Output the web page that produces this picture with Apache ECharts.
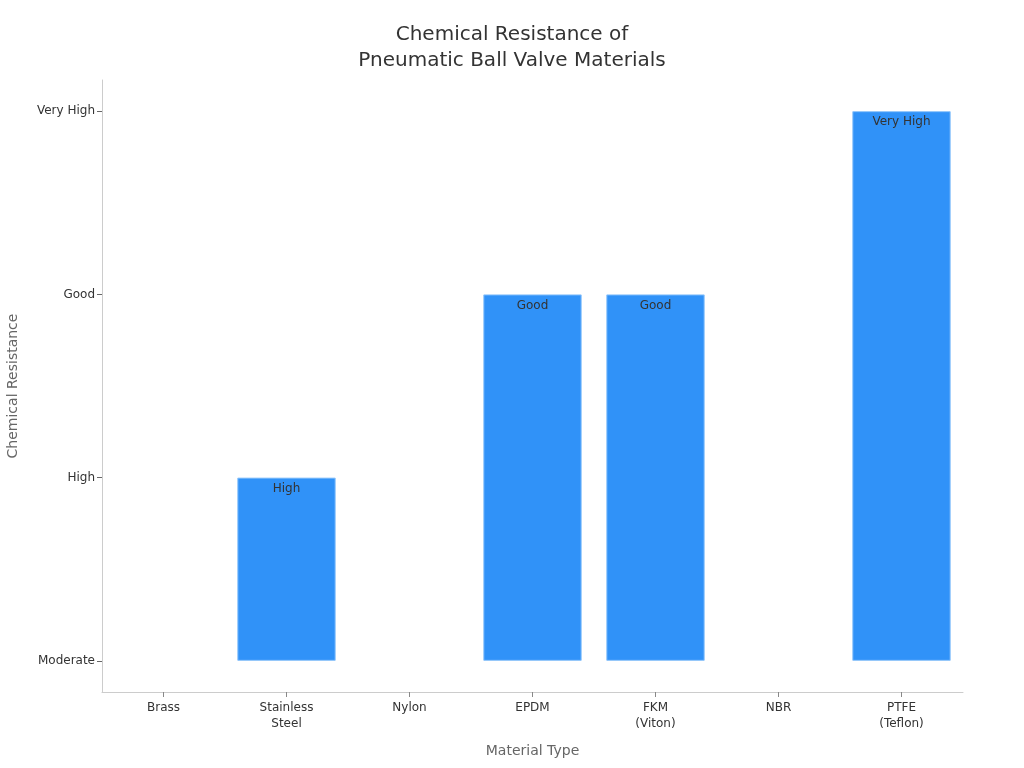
<!DOCTYPE html>
<html>
<head>
<meta charset="utf-8">
<script src="https://cdn.jsdelivr.net/npm/echarts@6/dist/echarts.min.js"></script>
<style>html,body{margin:0;padding:0;background:#fff}#c{width:1024px;height:768px}</style>
</head>
<body>
<div id="c"></div>
<script>
var categories = ['Brass', 'Stainless\nSteel', 'Nylon', 'EPDM', 'FKM\n(Viton)', 'NBR', 'PTFE\n(Teflon)'];
var levelNames = ['Moderate', 'High', 'Good', 'Very High'];
var resistance = [0, 1, 0, 2, 2, 0, 3];
var tickValues = [0, 1, 2, 3];

var chart = echarts.init(document.getElementById('c'));
var font = 'DejaVu Sans';
chart.setOption({
  animation: false,
  textStyle: { fontFamily: font },
  title: {
    text: 'Chemical Resistance of\nPneumatic Ball Valve Materials',
    left: 'center', top: 17,
    textStyle: { fontFamily: font, fontSize: 20, fontWeight: 'normal', color: '#333', lineHeight: 26 }
  },
  grid: { left: 102, right: 61, top: 80, bottom: 76, outerBoundsMode: 'none', containLabel: false },
  xAxis: {
    type: 'category',
    data: categories,
    name: 'Material Type', nameLocation: 'middle', nameGap: 52,
    nameTextStyle: { fontFamily: font, fontSize: 14, color: '#666' },
    axisLine: { show: true, onZero: false, lineStyle: { color: '#ccc' } },
    axisTick: { show: true, alignWithLabel: true, length: 5, lineStyle: { color: '#888', width: 1 } },
    axisLabel: { fontFamily: font, fontSize: 12, color: '#333', margin: 8, lineHeight: 16 }
  },
  yAxis: {
    type: 'value', min: -0.17, max: 3.17,
    name: 'Chemical Resistance', nameLocation: 'middle', nameGap: 82,
    nameTextStyle: { fontFamily: font, fontSize: 14, color: '#666' },
    axisLine: { show: true, lineStyle: { color: '#ccc' } },
    axisTick: { show: true, length: 5, customValues: tickValues, lineStyle: { color: '#666' } },
    axisLabel: { fontFamily: font, fontSize: 12, color: '#333', margin: 7, customValues: tickValues,
      formatter: function (v) { return levelNames[Math.round(v)]; } },
    splitLine: { show: false }
  },
  series: [{
    type: 'bar',
    data: resistance.map(function (v) {
      return v > 0 ? { value: v } : { value: v, itemStyle: { borderWidth: 0 } };
    }),
    barCategoryGap: '20%',
    itemStyle: { color: '#3092f8', borderColor: '#8ec4fb', borderWidth: 1 },
    label: {
      show: true, position: 'insideTop', distance: 5,
      fontFamily: font, fontSize: 12, color: '#333',
      formatter: function (p) { return p.value > 0 ? levelNames[p.value] : ''; }
    }
  }]
});
</script>
</body>
</html>
